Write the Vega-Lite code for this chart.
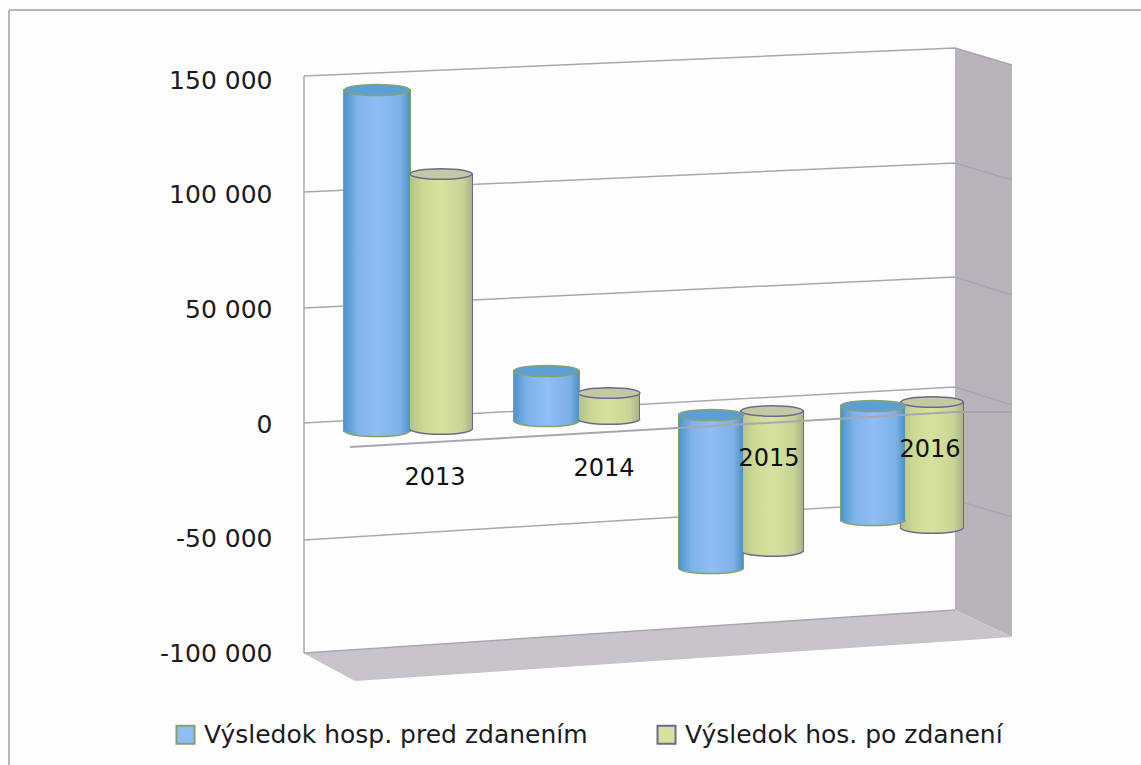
{
"$schema":"https://vega.github.io/schema/vega-lite/v6.json",
"width":1141,"height":765,"padding":0,"autosize":{"type":"none"},"background":"#fefefe",
"config":{"view":{"stroke":null},"font":"DejaVu Sans","axis":{"offset":-272,"domain":false,"ticks":false,"grid":false,"labelPadding":0,"labelFont":"DejaVu Sans","labelFontSize":25,"labelColor":"#1c1c1c"}},
"datasets":{
"side":[{"x":955,"y":164049,"yEnd":-81152},{"x":1012,"y":156632,"yEnd":-92932}],
"floor":[{"x":303,"y":-99913,"yEnd":-99913},{"x":355,"y":-98604,"yEnd":-112129},{"x":955,"y":-81152,"yEnd":-94677},{"x":1012,"y":-92932,"yEnd":-92932}],
"grid":[
{"g":"150","x":304,"y":151832},{"g":"150","x":955,"y":164049},{"g":"150","x":1012,"y":156632},
{"g":"100","x":304,"y":101222},{"g":"100","x":955,"y":113874},{"g":"100","x":1012,"y":106457},
{"g":"50","x":304,"y":50611},{"g":"50","x":955,"y":64136},{"g":"50","x":1012,"y":56283},
{"g":"0","x":304,"y":436},{"g":"0","x":955,"y":16143},{"g":"0","x":1012,"y":8290},
{"g":"-50","x":304,"y":-50611},{"g":"-50","x":955,"y":-33159},{"g":"-50","x":1012,"y":-40576},
{"g":"-100","x":304,"y":-99913},{"g":"-100","x":955,"y":-81152},
{"g":"left","x":304,"y":151832},{"g":"left","x":304,"y":-99913}
],
"front":[{"x":350,"y":-10035},{"x":955,"y":5236},{"x":1012,"y":5236}],
"frame":[{"g":"top","x":9,"y":180628},{"g":"top","x":1141,"y":180628},{"g":"left","x":9,"y":180628},{"g":"left","x":9,"y":-148778}],
"bars":[
{"year":"2013","series":"Výsledok hosp. pred zdanením","x":344,"xEnd":410,"xc":377,"y":145724,"yEnd":-3054},
{"year":"2014","series":"Výsledok hosp. pred zdanením","x":514,"xEnd":579,"xc":546.5,"y":23124,"yEnd":1309},
{"year":"2015","series":"Výsledok hosp. pred zdanením","x":679,"xEnd":743,"xc":711,"y":3927,"yEnd":-62827},
{"year":"2016","series":"Výsledok hosp. pred zdanením","x":841,"xEnd":905,"xc":873,"y":7853,"yEnd":-41885},
{"year":"2013","series":"Výsledok hos. po zdanení","x":410,"xEnd":472,"xc":441,"y":109075,"yEnd":-2182},
{"year":"2014","series":"Výsledok hos. po zdanení","x":579,"xEnd":639,"xc":609,"y":13525,"yEnd":2182},
{"year":"2015","series":"Výsledok hos. po zdanení","x":741,"xEnd":803,"xc":772,"y":5672,"yEnd":-55410},
{"year":"2016","series":"Výsledok hos. po zdanení","x":901,"xEnd":963,"xc":932,"y":9599,"yEnd":-45375}
],
"years":[{"x":435,"y":-23560,"year":"2013"},{"x":604,"y":-19634,"year":"2014"},{"x":769,"y":-15271,"year":"2015"},{"x":930,"y":-11344,"year":"2016"}]
},
"encoding":{
"x":{"field":"x","type":"quantitative","scale":{"domain":[0,1141],"nice":false,"zero":false},"axis":null},
"y":{"field":"y","type":"quantitative","title":null,"scale":{"domain":[-148778,184991],"nice":false,"zero":false},"axis":{"title":null,"values":[-100000,-50000,0,50000,100000,150000],"labelExpr":"replace(replace(format(datum.value,','),/,/g,' '),'−','-')"}}
},
"layer":[
{"data":{"name":"frame"},"mark":{"type":"line","color":"#b9b6c2","strokeWidth":2},"encoding":{"detail":{"field":"g"}}},
{"data":{"name":"side"},"mark":{"type":"area","color":"#bab3bc"},"encoding":{"y2":{"field":"yEnd"}}},
{"data":{"name":"floor"},"mark":{"type":"area","color":"#c9c4cb"},"encoding":{"y2":{"field":"yEnd"}}},
{"data":{"name":"grid"},"mark":{"type":"line","color":"#a9a6b0","strokeWidth":1.5},"encoding":{"detail":{"field":"g"}}},
{"data":{"name":"bars"},"mark":{"type":"rect","strokeWidth":2},
 "encoding":{"x2":{"field":"xEnd"},"y2":{"field":"yEnd"},
  "fill":{"field":"series","type":"nominal","scale":{"domain":["Výsledok hosp. pred zdanením","Výsledok hos. po zdanení"],"range":["#8fbdf5","#d5e29c"]},
    "legend":{"title":null,"orient":"none","legendX":173,"legendY":722,"direction":"horizontal","symbolType":"square","symbolSize":324,"symbolOpacity":1,"symbolStrokeWidth":2,"labelFont":"DejaVu Sans","labelFontSize":25,"labelColor":"#1c1c1c","labelLimit":600,"labelOffset":6,"columnPadding":65,"padding":0}},
  "stroke":{"field":"series","type":"nominal","scale":{"domain":["Výsledok hosp. pred zdanením","Výsledok hos. po zdanení"],"range":["#86a26c","#6f6790"]}}}},
{"data":{"name":"bars"},"transform":[{"filter":"datum.series === 'Výsledok hos. po zdanení'"}],
 "mark":{"type":"rect","fill":{"x1":0,"x2":1,"y1":0,"y2":0,"gradient":"linear","stops":[{"offset":0,"color":"#b3c288"},{"offset":0.2,"color":"#cbd995"},{"offset":0.5,"color":"#d6e39d"},{"offset":0.85,"color":"#c8d496"},{"offset":1,"color":"#a9b385"}]}},
 "encoding":{"x2":{"field":"xEnd"},"y2":{"field":"yEnd"}}},
{"data":{"name":"bars"},"transform":[{"filter":"datum.series === 'Výsledok hos. po zdanení'"}],
 "mark":{"type":"point","filled":true,"opacity":1,"size":3844,"shape":"M-1,0A1,0.17,0,0,0,1,0","fill":{"x1":0,"x2":1,"y1":0,"y2":0,"gradient":"linear","stops":[{"offset":0,"color":"#b3c288"},{"offset":0.2,"color":"#cbd995"},{"offset":0.5,"color":"#d6e39d"},{"offset":0.85,"color":"#c8d496"},{"offset":1,"color":"#a9b385"}]},"stroke":"#6f6790","strokeWidth":1.5},
 "encoding":{"x":{"field":"xc","type":"quantitative","scale":{"domain":[0,1141],"nice":false,"zero":false},"axis":null},"y":{"field":"yEnd","type":"quantitative","title":null,"scale":{"domain":[-148778,184991],"nice":false,"zero":false},"axis":{"title":null,"values":[-100000,-50000,0,50000,100000,150000],"labelExpr":"replace(replace(format(datum.value,','),/,/g,' '),'−','-')"}}}},
{"data":{"name":"bars"},"transform":[{"filter":"datum.series === 'Výsledok hos. po zdanení'"}],
 "mark":{"type":"point","filled":true,"opacity":1,"size":3844,"shape":"M-1,0A1,0.17,0,1,1,1,0A1,0.17,0,1,1,-1,0Z","fill":"#c3c9a2","stroke":"#6f6790","strokeWidth":1.5},
 "encoding":{"x":{"field":"xc","type":"quantitative","scale":{"domain":[0,1141],"nice":false,"zero":false},"axis":null}}},
{"data":{"name":"bars"},"transform":[{"filter":"datum.series === 'Výsledok hosp. pred zdanením'"}],
 "mark":{"type":"rect","fill":{"x1":0,"x2":1,"y1":0,"y2":0,"gradient":"linear","stops":[{"offset":0,"color":"#4c94cc"},{"offset":0.2,"color":"#7fb2ea"},{"offset":0.5,"color":"#90bdf6"},{"offset":0.85,"color":"#7eb1e8"},{"offset":1,"color":"#4d92c6"}]}},
 "encoding":{"x2":{"field":"xEnd"},"y2":{"field":"yEnd"}}},
{"data":{"name":"bars"},"transform":[{"filter":"datum.series === 'Výsledok hosp. pred zdanením'"}],
 "mark":{"type":"point","filled":true,"opacity":1,"size":4225,"shape":"M-1,0A1,0.17,0,0,0,1,0","fill":{"x1":0,"x2":1,"y1":0,"y2":0,"gradient":"linear","stops":[{"offset":0,"color":"#4c94cc"},{"offset":0.2,"color":"#7fb2ea"},{"offset":0.5,"color":"#90bdf6"},{"offset":0.85,"color":"#7eb1e8"},{"offset":1,"color":"#4d92c6"}]},"stroke":"#86a26c","strokeWidth":1.5},
 "encoding":{"x":{"field":"xc","type":"quantitative","scale":{"domain":[0,1141],"nice":false,"zero":false},"axis":null},"y":{"field":"yEnd","type":"quantitative","title":null,"scale":{"domain":[-148778,184991],"nice":false,"zero":false},"axis":{"title":null,"values":[-100000,-50000,0,50000,100000,150000],"labelExpr":"replace(replace(format(datum.value,','),/,/g,' '),'−','-')"}}}},
{"data":{"name":"bars"},"transform":[{"filter":"datum.series === 'Výsledok hosp. pred zdanením'"}],
 "mark":{"type":"point","filled":true,"opacity":1,"size":4225,"shape":"M-1,0A1,0.17,0,1,1,1,0A1,0.17,0,1,1,-1,0Z","fill":"#5b9fd6","stroke":"#86a26c","strokeWidth":1.5},
 "encoding":{"x":{"field":"xc","type":"quantitative","scale":{"domain":[0,1141],"nice":false,"zero":false},"axis":null}}},
{"data":{"name":"front"},"mark":{"type":"line","color":"#a9a6b0","strokeWidth":2}},
{"data":{"name":"years"},"mark":{"type":"text","font":"DejaVu Sans","fontSize":24,"color":"#111111","align":"center","baseline":"middle"},"encoding":{"text":{"field":"year","type":"nominal"}}}
]
}
